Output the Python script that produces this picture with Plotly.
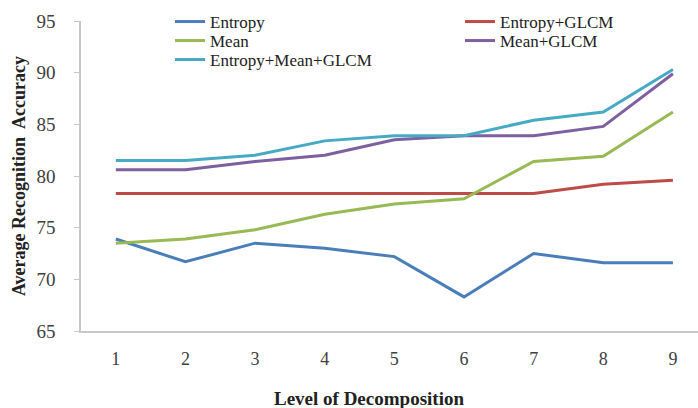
import plotly.graph_objects as go

levels = [1, 2, 3, 4, 5, 6, 7, 8, 9]
entropy = [73.9, 71.7, 73.5, 73.0, 72.2, 68.3, 72.5, 71.6, 71.6]
entropy_glcm = [78.3, 78.3, 78.3, 78.3, 78.3, 78.3, 78.3, 79.2, 79.6]
mean = [73.5, 73.9, 74.8, 76.3, 77.3, 77.8, 81.4, 81.9, 86.2]
mean_glcm = [80.6, 80.6, 81.4, 82.0, 83.5, 83.9, 83.9, 84.8, 89.9]
ent_mean_glcm = [81.5, 81.5, 82.0, 83.4, 83.9, 83.9, 85.4, 86.2, 90.3]

series = [
    ("Entropy", entropy, "#4a7ebb", "legend"),
    ("Entropy+GLCM", entropy_glcm, "#be4b48", "legend2"),
    ("Mean", mean, "#98b954", "legend3"),
    ("Mean+GLCM", mean_glcm, "#7d60a0", "legend4"),
    ("Entropy+Mean+GLCM", ent_mean_glcm, "#46aac5", "legend5"),
]

fig = go.Figure()
for name, vals, col, lg in series:
    fig.add_trace(go.Scatter(x=levels, y=vals, mode="lines", name=name, showlegend=True,
                             line=dict(color=col, width=3), legend=lg))

serif = "Liberation Serif"
W, H = 698, 408
L, R, T, B = 81, 0, 21, 77
PW, PH = W - L - R, H - T - B


def leg(px, py):
    return dict(bgcolor="rgba(0,0,0,0)", font=dict(family=serif, size=17, color="#222"),
                itemwidth=30, xanchor="left", yanchor="middle",
                xref="paper", yref="paper",
                x=(px - L) / PW, y=1 - (py - T) / PH)


fig.update_layout(
    width=W, height=H,
    showlegend=True,
    margin=dict(l=L, r=R, t=T, b=B, autoexpand=False),
    paper_bgcolor="white", plot_bgcolor="white",
    font=dict(family=serif, color="#404040"),
    legend=leg(170, 22),
    legend2=leg(460, 22),
    legend3=leg(170, 41),
    legend4=leg(460, 41),
    legend5=leg(170, 60),
    xaxis=dict(range=[0.5, 9.36], tickvals=levels, ticks="", showgrid=False,
               showline=True, linecolor="#c8c8c8", linewidth=1.5, automargin=False,
               tickangle=0,
               tickfont=dict(family=serif, size=18, color="#404040"),
               ticklabelstandoff=11, zeroline=False),
    yaxis=dict(range=[65, 95], dtick=5, ticks="outside", ticklen=5, tickcolor="#c8c8c8",
               showgrid=False, showline=True, linecolor="#c8c8c8", linewidth=1.5,
               automargin=False,
               tickfont=dict(family=serif, size=19, color="#404040"),
               ticklabelstandoff=15, zeroline=False,
               title=dict(text="<b>Average Recognition  Accuracy</b>", standoff=6,
                          font=dict(family=serif, size=18, color="#222"))),
    annotations=[dict(text="<b>Level of Decomposition</b>", showarrow=False,
                      xref="paper", yref="paper",
                      x=(369 - L) / PW, y=-(398 - T - PH) / PH,
                      xanchor="center", yanchor="middle",
                      font=dict(family=serif, size=19, color="#222"))],
)

fig.write_html("out.html", post_script="document.body.style.margin='0';",
               config={"displayModeBar": False})
